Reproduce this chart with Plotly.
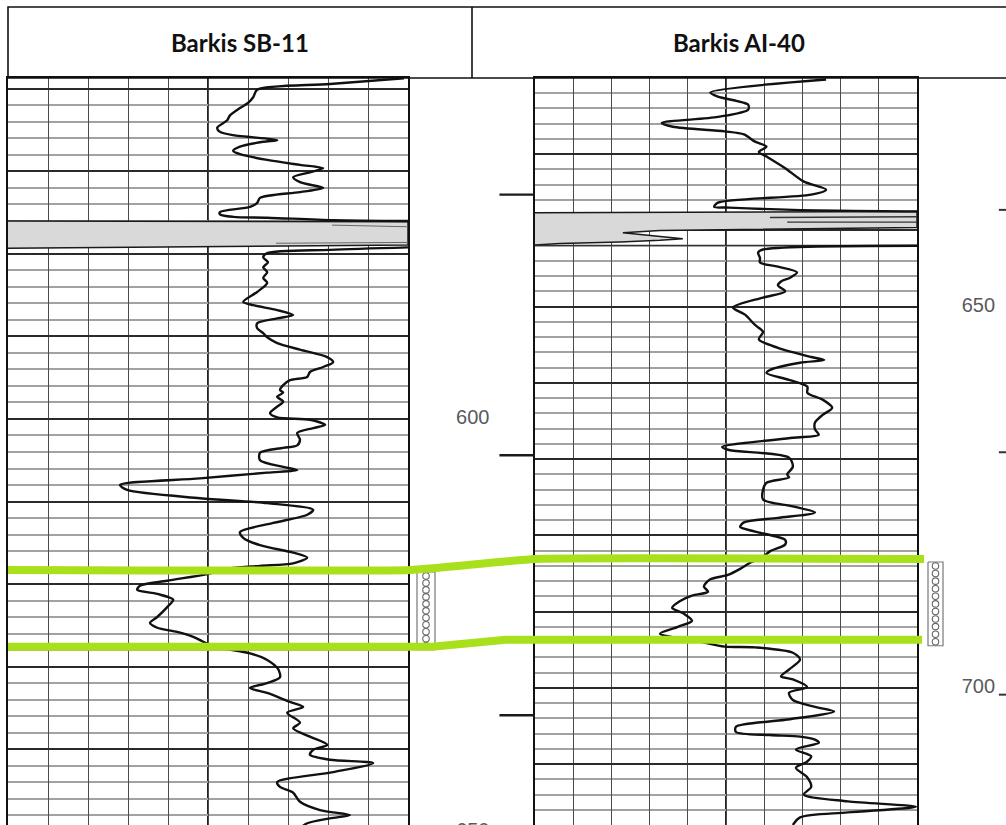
import plotly.graph_objects as go

W, H = 1006, 825

# ---------------- data ----------------
well_names = ["Barkis SB-11", "Barkis AI-40"]

# SB-11 log curve (track scale 0-10), above the shaded bed
sb11_upper_depth = [558.7, 559.4, 560.1, 561.0, 561.7, 562.3, 563.2, 563.8, 564.7, 565.2,
                    565.6, 566.2, 566.4, 567.0, 567.5, 567.9, 568.6, 569.2, 569.6, 570.1,
                    570.7, 571.3, 572.0, 572.5, 573.2, 573.8, 574.3, 574.9, 575.2, 575.5,
                    575.6, 575.9, 576.0]
sb11_upper_value = [9.9, 8.05, 6.23, 6.13, 6.0, 5.8, 5.55, 5.48, 5.23, 5.3,
                    5.63, 6.73, 6.38, 5.8, 5.63, 5.8, 6.48, 7.3, 7.88, 7.55,
                    7.13, 7.3, 7.88, 7.3, 6.3, 6.23, 6.05, 5.3, 5.3, 5.63,
                    6.48, 8.13, 10.0]

# SB-11 shaded bed
sb11_bed_depth = [576.0, 576.1, 578.9, 579.3]
sb11_bed_value = [0, 10, 10, 0]
sb11_bed_edge_depth = [576.5, 576.7, None, 578.7, 578.6]
sb11_bed_edge_value = [8.1, 10, None, 6.7, 10]

# SB-11 log curve below the shaded bed
sb11_lower_depth = [579.2, 579.5, 579.9, 580.4, 581.0, 581.6, 582.2, 582.9, 583.5, 584.6,
                    585.8, 586.2, 586.8, 587.4, 587.8, 588.4, 589.0, 589.6, 590.1, 590.8,
                    591.6, 592.5, 593.1, 593.7, 594.3, 594.9, 595.3, 595.9, 596.5, 596.8,
                    597.3, 597.9, 598.5, 599.3, 599.8, 600.1, 600.7, 601.1, 601.7, 602.5,
                    603.2, 603.5, 604.1, 605.0, 605.8, 606.2, 606.5, 607.2, 608.0, 608.6,
                    609.6, 610.2, 611.0, 611.6, 612.6, 613.7, 614.4, 615.3, 616.2, 616.8,
                    617.5, 617.8, 618.1, 618.8, 619.6, 620.2, 620.7, 621.2, 621.9, 622.8,
                    624.0, 624.7, 625.3, 625.8, 626.4, 627.0, 627.6, 628.4, 629.2, 630.3,
                    631.3, 632.0, 632.6, 633.2, 634.3, 634.9, 635.6, 636.8, 637.5, 638.5,
                    639.5, 640.1, 640.7, 641.3, 641.7, 642.8, 644.0, 644.6, 645.3, 646.4,
                    647.4, 648.0, 648.4, 649.0, 649.6]
sb11_lower_value = [10.0, 8.05, 6.48, 6.38, 6.5, 6.38, 6.48, 6.38, 6.48, 6.23,
                    5.88, 6.13, 6.73, 7.13, 6.73, 6.23, 6.23, 6.38, 6.48, 6.73,
                    7.3, 7.98, 8.13, 7.88, 7.55, 7.48, 7.05, 6.88, 6.8, 6.88,
                    6.73, 6.88, 6.73, 6.55, 6.73, 7.55, 7.93, 7.63, 7.23, 7.3,
                    7.23, 6.88, 6.3, 6.3, 6.88, 7.23, 6.48, 4.8, 2.8, 2.98,
                    4.8, 6.48, 7.63, 7.48, 6.63, 5.8, 5.88, 6.3, 7.13, 7.48,
                    7.13, 6.3, 5.55, 4.98, 3.98, 3.3, 3.23, 3.73, 4.13, 3.98,
                    3.73, 3.55, 3.73, 4.23, 4.63, 4.88, 5.18, 6.05, 6.48, 6.75,
                    6.8, 6.48, 6.05, 6.48, 7.05, 7.38, 6.98, 7.3, 7.13, 7.55,
                    7.98, 7.63, 7.55, 8.05, 9.13, 8.13, 6.73, 6.8, 7.13, 7.3,
                    7.8, 8.55, 8.05, 7.48, 7.3]

# AI-40 log curve above the shaded bed
ai40_upper_depth = [620.2, 621.9, 622.45, 623.5, 624.15, 625.1, 625.9, 626.4, 627.0, 627.4,
                    628.35, 629.0, 629.7, 630.3, 631.8, 633.6, 634.65, 635.3, 636.35, 636.9,
                    637.0, 637.3, 637.5]
ai40_upper_value = [7.62, 4.59, 4.79, 5.58, 5.58, 4.79, 3.32, 3.61, 4.97, 5.47,
                    5.76, 6.06, 5.86, 6.06, 6.54, 7.04, 7.62, 7.23, 4.79, 4.69,
                    5.08, 6.75, 10.0]

# AI-40 shaded bed
ai40_bed_depth = [637.67, 637.5, 639.6, 639.8, 639.9, 640.0, 640.3, 640.7, 641.1, 641.3,
                  641.5, 641.7, 641.9]
ai40_bed_value = [0, 10, 10, 6.94, 4.32, 3.27, 2.3, 3.01, 3.87, 3.27,
                  2.23, 0.65, 0]
ai40_bed_edge_depth = [638.3, 638.2, None, 638.9, 638.9, None, 641.95, 641.95]
ai40_bed_edge_value = [6.15, 10, None, 6.6, 10, None, 0, 10]

# AI-40 log curve below the shaded bed
ai40_lower_depth = [642.0, 642.5, 642.9, 643.6, 644.2, 644.75, 645.5, 646.2, 646.7, 647.2,
                    648.0, 648.8, 650.1, 651.05, 652.4, 653.3, 654.3, 655.4, 656.6, 657.0,
                    657.35, 658.3, 658.7, 659.6, 660.5, 661.3, 662.2, 663.25, 664.2, 665.2,
                    666.1, 666.8, 667.2, 668.4, 668.8, 669.8, 671.0, 672.0, 672.4, 673.1,
                    674.0, 675.3, 676.2, 677.0, 677.7, 678.3, 678.9, 679.5, 680.6, 681.2,
                    682.1, 682.8, 683.6, 684.4, 685.2, 685.8, 686.7, 687.4, 687.9, 688.6,
                    689.5, 690.3, 691.2, 692.0, 692.9, 693.95, 694.6, 694.7, 695.4, 696.3,
                    697.6, 698.5, 698.9, 699.9, 700.65, 701.6, 702.5, 703.1, 704.2, 705.1,
                    705.8, 706.2, 706.4, 706.8, 707.2, 708.1, 709.0, 709.7, 710.5, 711.7,
                    713.0, 714.0, 714.9, 715.6, 716.35, 717.0, 718.0]
ai40_lower_value = [10.0, 5.97, 5.84, 5.89, 5.89, 6.36, 6.86, 6.68, 6.44, 6.36,
                    6.55, 5.97, 5.18, 5.5, 5.76, 5.97, 5.86, 6.36, 7.23, 7.57,
                    6.94, 6.15, 6.06, 6.65, 7.13, 7.13, 7.53, 7.78, 7.53, 7.33,
                    7.33, 7.43, 6.75, 4.9, 5.08, 6.65, 6.75, 6.6, 6.65, 6.06,
                    5.97, 5.97, 6.75, 7.33, 6.36, 5.47, 5.37, 5.76, 6.55, 6.55,
                    6.15, 5.97, 5.63, 5.37, 5.05, 4.58, 4.42, 4.53, 4.11, 3.8,
                    3.59, 3.9, 4.11, 3.74, 3.27, 4.32, 4.97, 5.76, 6.75, 6.94,
                    6.65, 6.44, 6.75, 7.12, 6.65, 6.75, 7.33, 7.83, 6.55, 5.26,
                    5.26, 6.15, 6.94, 7.33, 7.43, 6.83, 7.23, 7.12, 6.83, 7.12,
                    7.23, 7.04, 8.19, 9.97, 8.19, 6.94, 6.75]

# depth annotations
sb11_depth_labels = [600, 650]
ai40_depth_labels = [650, 700]
sb11_marks = [572.8, 604.4, 635.9]
ai40_marks = [637.3, 669.1, 700.9]

# correlated interval (SB-11, AI-40)
pick_top = [618.3, 683.1]
pick_base = [627.6, 693.7]

# ---------------- layout constants ----------------
HEAD_T, HEAD_B = 7, 78
DIV_X = 472
L_X = (8, 408)
R_X = (535, 917)
L_RANGE = (558.67, 649.21)
R_RANGE = (620.0, 718.0)
Y_DOM = [0, 1 - HEAD_B / H]


def ly(d):
    return HEAD_B + (d - L_RANGE[0]) / (L_RANGE[1] - L_RANGE[0]) * (H - HEAD_B)


def ry(d):
    return HEAD_B + (d - R_RANGE[0]) / (R_RANGE[1] - R_RANGE[0]) * (H - HEAD_B)


def track_x(x0, x1, anchor):
    return dict(domain=[x0 / W, x1 / W], range=[0, 10], tickmode="linear", tick0=0, dtick=1,
                showgrid=True, gridcolor="#4a4a4a", gridwidth=1.3, zeroline=False,
                showline=True, mirror=True, linecolor="#111", linewidth=2.4,
                showticklabels=False, ticks="", anchor=anchor, fixedrange=True)


def track_y(rng, anchor):
    return dict(domain=Y_DOM, range=[rng[1], rng[0]], tickmode="linear", tick0=0, dtick=10,
                showgrid=True, gridcolor="#2a2a2a", gridwidth=1.9,
                minor=dict(tickmode="linear", tick0=0, dtick=2, showgrid=True,
                           gridcolor="#a2a2a2", gridwidth=1.7, ticks=""),
                zeroline=False, showline=True, mirror=True, linecolor="#111", linewidth=2.4,
                showticklabels=False, ticks="", anchor=anchor, fixedrange=True)


def hidden(domain, rng, anchor):
    return dict(domain=domain, range=rng, visible=False, anchor=anchor, fixedrange=True)


fig = go.Figure()

CURVE = dict(color="#111", width=2.4, shape="spline", smoothing=0.8)
BED_FILL = "#d9d9d9"

# ---- SB-11 track ----
fig.add_trace(go.Scatter(x=sb11_bed_value, y=sb11_bed_depth, mode="lines", fill="toself",
                         fillcolor=BED_FILL, line=dict(color="#1a1a1a", width=1.5),
                         xaxis="x", yaxis="y"))
fig.add_trace(go.Scatter(x=sb11_bed_edge_value, y=sb11_bed_edge_depth, mode="lines",
                         line=dict(color="#666", width=1), xaxis="x", yaxis="y"))
fig.add_trace(go.Scatter(x=sb11_upper_value, y=sb11_upper_depth, mode="lines", line=CURVE,
                         xaxis="x", yaxis="y"))
fig.add_trace(go.Scatter(x=sb11_lower_value, y=sb11_lower_depth, mode="lines", line=CURVE,
                         xaxis="x", yaxis="y"))

# ---- AI-40 track ----
fig.add_trace(go.Scatter(x=ai40_bed_value, y=ai40_bed_depth, mode="lines", fill="toself",
                         fillcolor=BED_FILL, line=dict(color="#1a1a1a", width=1.5),
                         xaxis="x2", yaxis="y2"))
fig.add_trace(go.Scatter(x=ai40_bed_edge_value, y=ai40_bed_edge_depth, mode="lines",
                         line=dict(color="#333", width=1.3), xaxis="x2", yaxis="y2"))
fig.add_trace(go.Scatter(x=ai40_upper_value, y=ai40_upper_depth, mode="lines", line=CURVE,
                         xaxis="x2", yaxis="y2"))
fig.add_trace(go.Scatter(x=ai40_lower_value, y=ai40_lower_depth, mode="lines", line=CURVE,
                         xaxis="x2", yaxis="y2"))

# ---- gap column (SB-11 depth scale) ----
LABEL_FONT = dict(family="Liberation Sans, Arial, sans-serif", size=20, color="#5a5a5a")
fig.add_trace(go.Scatter(x=[0.51] * len(sb11_depth_labels), y=sb11_depth_labels,
                         text=[str(v) for v in sb11_depth_labels], mode="text",
                         textfont=LABEL_FONT, xaxis="x3", yaxis="y3"))
mx, my = [], []
for d in sb11_marks:
    mx += [0.72, 1.0, None]
    my += [d, d, None]
fig.add_trace(go.Scatter(x=mx, y=my, mode="lines", line=dict(color="#1a1a1a", width=2.4),
                         xaxis="x3", yaxis="y3"))

# ---- right column (AI-40 depth scale) ----
fig.add_trace(go.Scatter(x=[0.69] * len(ai40_depth_labels), y=ai40_depth_labels,
                         text=[str(v) for v in ai40_depth_labels], mode="text",
                         textfont=LABEL_FONT, xaxis="x4", yaxis="y4"))
mx, my = [], []
for d in ai40_marks:
    mx += [0.92, 1.0, None]
    my += [d, d, None]
fig.add_trace(go.Scatter(x=mx, y=my, mode="lines", line=dict(color="#333", width=2),
                         xaxis="x4", yaxis="y4"))

# ---- correlation lines and interval columns (page overlay) ----
GREEN = "#a9e01c"
gap = R_X[0] - L_X[1]
top_x = [L_X[0], L_X[1] + 0.02 * gap, R_X[0], R_X[1] + 7]
top_y = [ly(pick_top[0]), ly(pick_top[0]), ry(pick_top[1]), ry(pick_top[1])]
base_x = [L_X[0], L_X[1] + 0.19 * gap, L_X[1] + 0.77 * gap, R_X[1] + 5]
base_y = [ly(pick_base[0]), ly(pick_base[0]), ry(pick_base[1]), ry(pick_base[1])]

for bx0, bx1, yt, yb in [(L_X[1] + 9, L_X[1] + 27, ly(pick_top[0]) + 2, ly(pick_base[0]) + 3),
                         (R_X[1] + 11, R_X[1] + 26, ry(pick_top[1]) + 3, ry(pick_base[1]) + 6)]:
    fig.add_trace(go.Scatter(x=[bx0, bx1, bx1, bx0, bx0], y=[yt, yt, yb, yb, yt], mode="lines",
                             line=dict(color="#777", width=1.2), xaxis="x5", yaxis="y5"))
    n = 11
    cy = [yt + 4 + i * (yb - yt - 8) / (n - 1) for i in range(n)]
    fig.add_trace(go.Scatter(x=[(bx0 + bx1) / 2] * n, y=cy, mode="markers",
                             marker=dict(symbol="circle-open", size=6.5, color="#666",
                                         line=dict(width=1.1, color="#666")),
                             xaxis="x5", yaxis="y5"))

fig.add_trace(go.Scatter(x=top_x, y=top_y, mode="lines",
                         line=dict(color=GREEN, width=8, shape="spline", smoothing=0.3),
                         xaxis="x5", yaxis="y5"))
fig.add_trace(go.Scatter(x=base_x, y=base_y, mode="lines", line=dict(color=GREEN, width=8),
                         xaxis="x5", yaxis="y5"))

# ---- header table ----
shapes = [
    dict(type="rect", xref="paper", yref="paper", x0=L_X[0] / W, x1=1.01,
         y0=1 - HEAD_B / H, y1=1 - HEAD_T / H, line=dict(color="#111", width=1.6)),
    dict(type="line", xref="paper", yref="paper", x0=DIV_X / W, x1=DIV_X / W,
         y0=1 - HEAD_B / H, y1=1 - HEAD_T / H, line=dict(color="#111", width=1.6)),
    dict(type="line", xref="x", yref="y domain", x0=5, x1=5, y0=0, y1=1, layer="below",
         line=dict(color="#222", width=2.0)),
    dict(type="line", xref="x2", yref="y2 domain", x0=5, x1=5, y0=0, y1=1, layer="below",
         line=dict(color="#222", width=2.0)),
]
HEAD_FONT = dict(family="Lato, Open Sans, sans-serif", size=24, color="#111", weight="bold")
annotations = [
    dict(text=well_names[0], xref="paper", yref="paper", x=(L_X[0] + DIV_X) / 2 / W,
         y=1 - (HEAD_T + HEAD_B) / 2 / H, showarrow=False, xanchor="center", yanchor="middle",
         font=HEAD_FONT),
    dict(text=well_names[1], xref="paper", yref="paper", x=(DIV_X + W) / 2 / W,
         y=1 - (HEAD_T + HEAD_B) / 2 / H, showarrow=False, xanchor="center", yanchor="middle",
         font=HEAD_FONT),
]

fig.update_layout(
    width=W, height=H, margin=dict(l=0, r=0, t=0, b=0),
    paper_bgcolor="white", plot_bgcolor="rgba(0,0,0,0)", showlegend=False,
    xaxis=track_x(L_X[0], L_X[1], "y"), yaxis=track_y(L_RANGE, "x"),
    xaxis2=track_x(R_X[0], R_X[1], "y2"), yaxis2=track_y(R_RANGE, "x2"),
    xaxis3=hidden([L_X[1] / W, R_X[0] / W], [0, 1], "y3"),
    yaxis3=hidden(Y_DOM, [L_RANGE[1], L_RANGE[0]], "x3"),
    xaxis4=hidden([R_X[1] / W, 1], [0, 1], "y4"),
    yaxis4=hidden(Y_DOM, [R_RANGE[1], R_RANGE[0]], "x4"),
    xaxis5=hidden([0, 1], [0, W], "y5"),
    yaxis5=hidden([0, 1], [H, 0], "x5"),
    shapes=shapes, annotations=annotations,
)

fig.write_html("out.html", config={"displayModeBar": False},
               post_script="document.body.style.margin='0px';document.body.style.overflow='hidden';")
